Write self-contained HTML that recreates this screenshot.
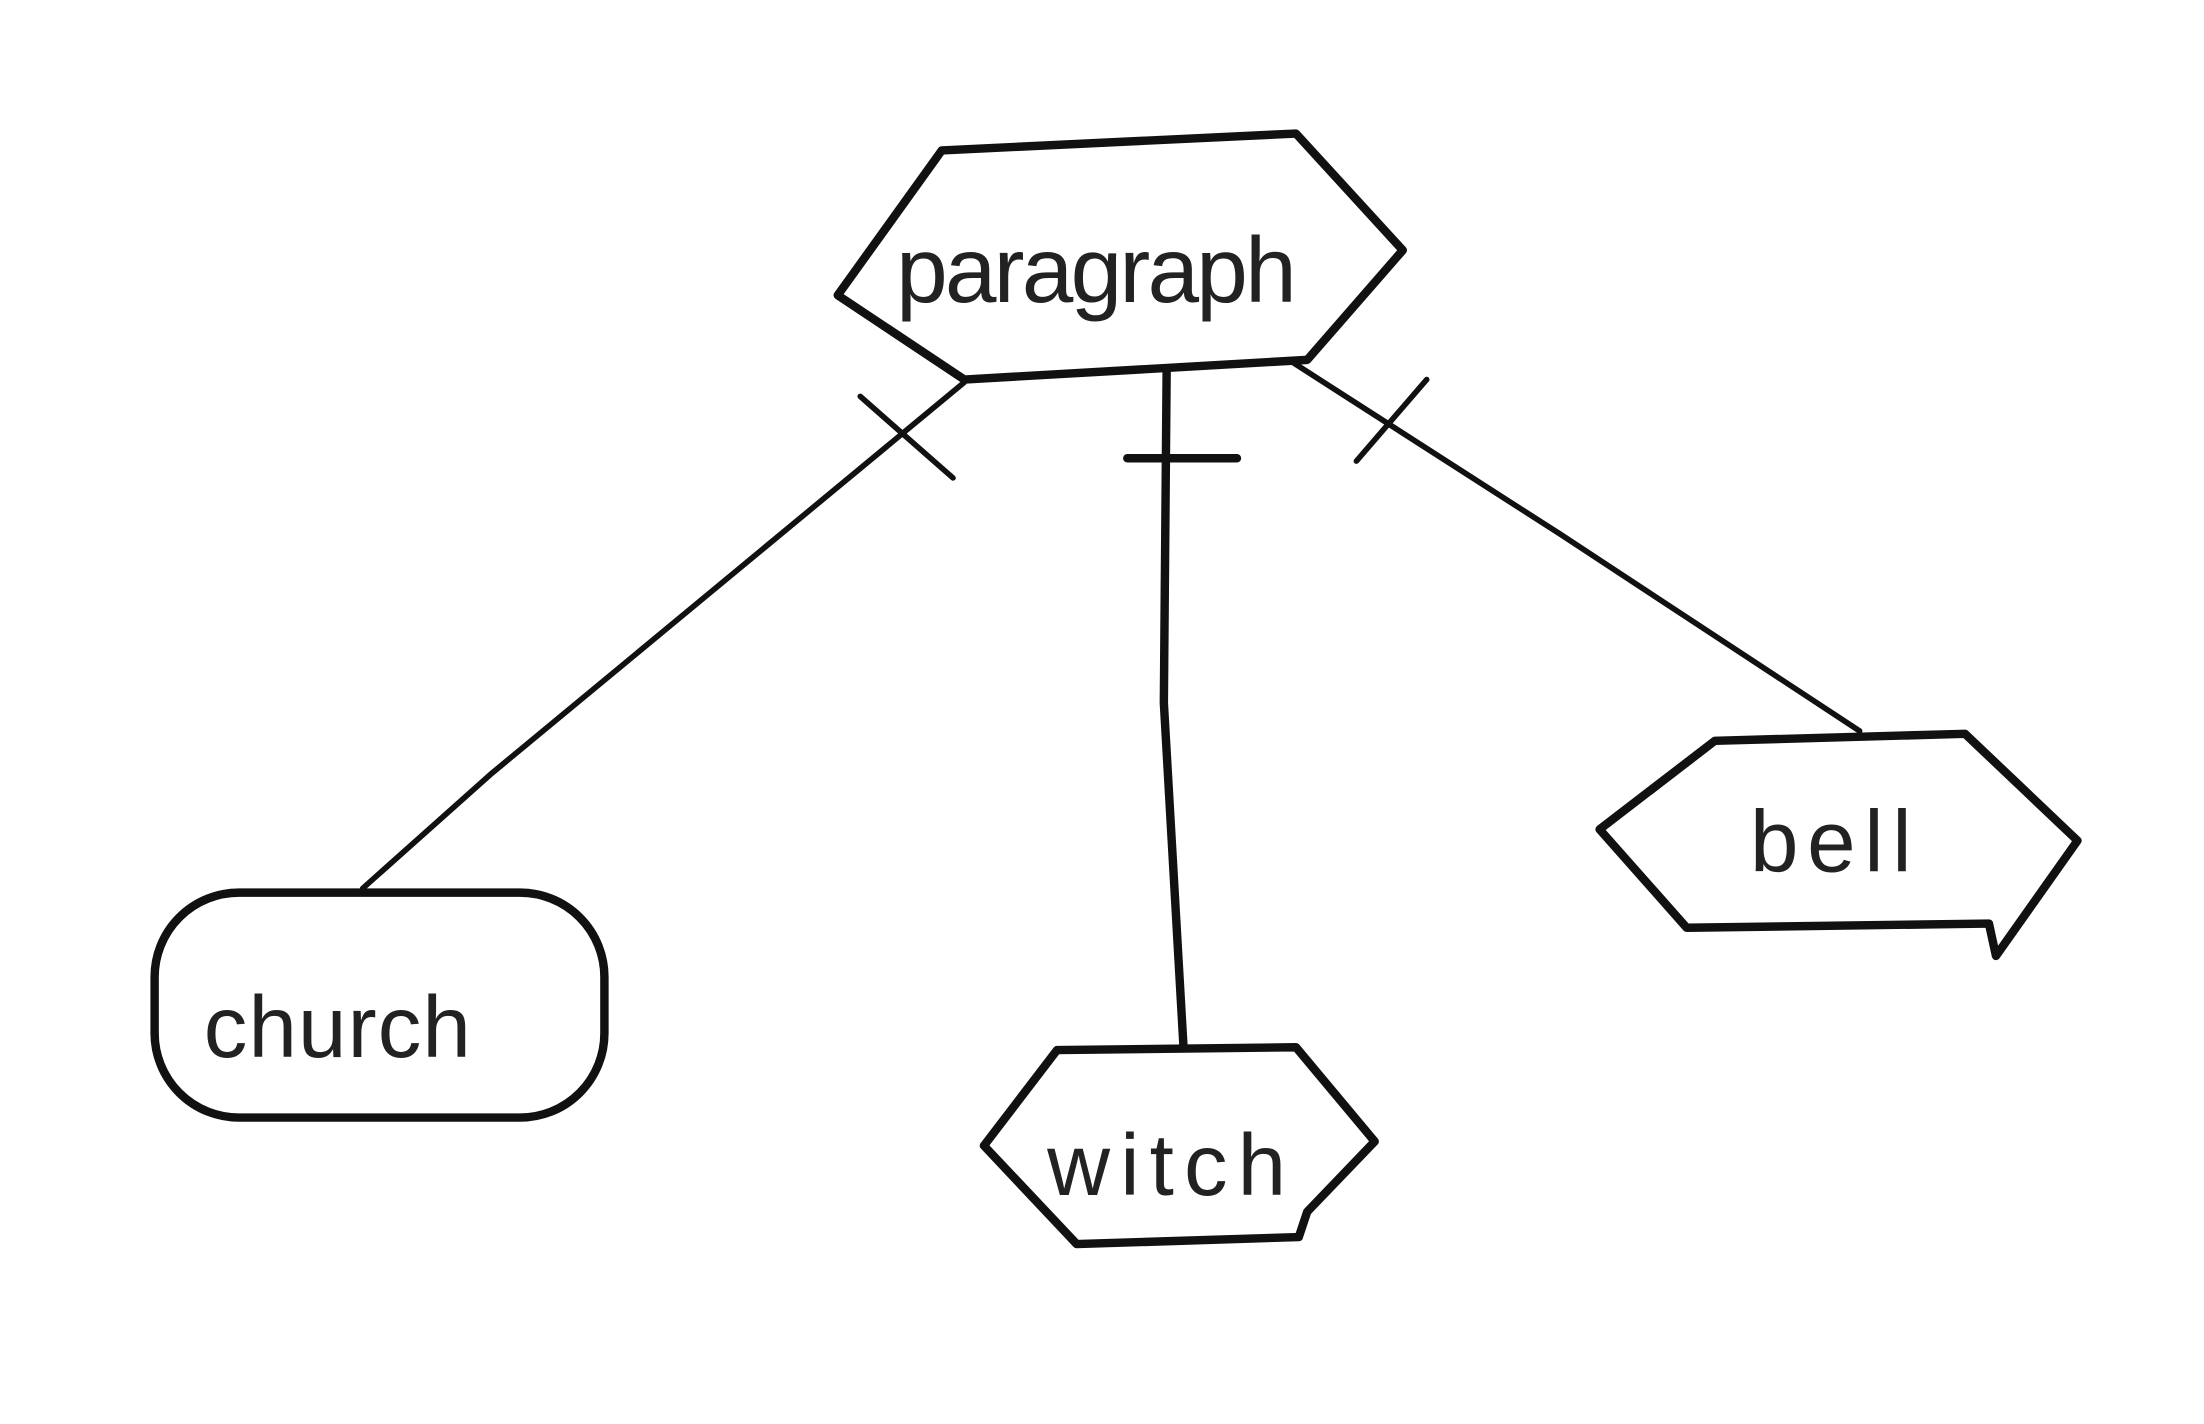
<!DOCTYPE html>
<html><head><style>html,body{margin:0;padding:0;background:#fff}svg{display:block}</style></head>
<body>
<svg width="2204" height="1424" viewBox="0 0 1568 1013" preserveAspectRatio="none" xmlns="http://www.w3.org/2000/svg">
<g fill="none" stroke="#111" stroke-width="6" stroke-linejoin="round" stroke-linecap="round">
<polygon points="670,107 922,95 998,178 930,256 686,270 596,210"/>
<polyline stroke-width="4" points="686,272 350,550 258,632"/>
<line stroke-width="4" x1="612" y1="282" x2="678" y2="340"/>
<polyline stroke-width="6" points="830,262 828,500 842,745"/>
<line stroke-width="6" x1="802" y1="326" x2="880" y2="326"/>
<polyline stroke-width="4" points="920,258 1110,380 1323,520"/>
<line stroke-width="4" x1="965" y1="328" x2="1015" y2="270"/>
<rect x="110" y="635" width="320" height="160" rx="60" ry="60"/>
<polygon points="752,747 922,745 978,812 930,862 924,880 766,885 700,815"/>
<polygon points="1220,527 1398,522 1478,598 1420,680 1415,657 1200,660 1138,590"/>
</g>
<g font-family="'Liberation Sans', sans-serif" fill="#222" font-weight="normal">
<text x="780" y="215" font-size="66" text-anchor="middle" textLength="285">paragraph</text>
<text x="145" y="752" font-size="62" textLength="190">church</text>
<text x="745" y="850" font-size="62" textLength="170">witch</text>
<text x="1245" y="620" font-size="62" textLength="115">bell</text>
</g>
</svg>
</body></html>
